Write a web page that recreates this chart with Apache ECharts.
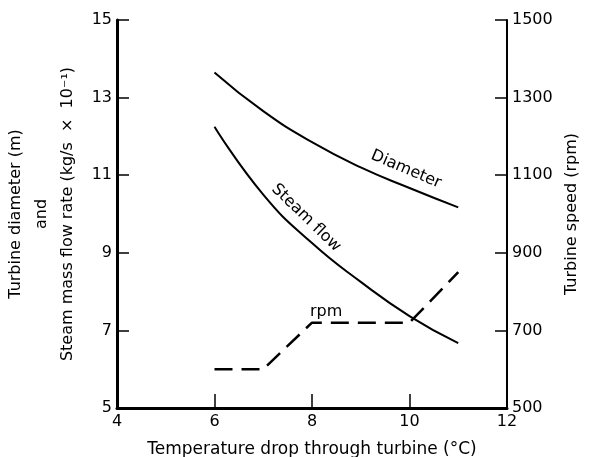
<!DOCTYPE html>
<html>
<head>
<meta charset="utf-8">
<script src="https://cdn.jsdelivr.net/npm/echarts@6/dist/echarts.min.js"></script>
<style>
  html, body { margin: 0; padding: 0; background: #fff; }
  #chart { width: 600px; height: 457px; }
</style>
</head>
<body>
<div id="chart"></div>
<script>
// temperature drop (°C)
var tempDrop = [6, 7, 8, 9, 10, 11]
// turbine diameter (m)
var diameter = [13.65, 12.65, 11.85, 11.2, 10.67, 10.17]
// steam mass flow rate (kg/s x 10^-1)
var steamFlow = [12.25, 10.5, 9.25, 8.25, 7.37, 6.67]
// turbine speed (rpm), step-like
var rpmX = [6, 7, 8, 10, 11]
var rpmY = [600, 600, 720, 720, 850]

var xTicks = [4, 6, 8, 10, 12]
var leftTicks = [5, 7, 9, 11, 13, 15]
var rightTicks = [500, 700, 900, 1100, 1300, 1500]

var font = 'DejaVu Sans'

function pairs(xs, ys) {
  return xs.map(function (x, i) { return [x, ys[i]] })
}

var chart = echarts.init(document.getElementById('chart'))

var labelStyle = {
  show: true,
  position: 'inside',
  color: '#000',
  fontFamily: font,
  fontSize: 16
}

var option = {
  backgroundColor: '#fff',
  animation: false,
  grid: {
    left: 117,
    right: 93,
    top: 20,
    bottom: 49,
    outerBoundsMode: 'none'
  },
  xAxis: {
    type: 'value',
    min: xTicks[0],
    max: xTicks[xTicks.length - 1],
    interval: 2,
    name: 'Temperature drop through turbine (°C)',
    nameLocation: 'middle',
    nameGap: 33,
    nameTextStyle: { color: '#000', fontFamily: font, fontSize: 17 },
    axisLine: { lineStyle: { color: '#000', width: 3 } },
    axisTick: { inside: true, length: 14, lineStyle: { color: '#000', width: 1.5 } },
    axisLabel: { color: '#000', fontFamily: font, fontSize: 16, margin: 6 },
    splitLine: { show: false }
  },
  yAxis: [
    {
      type: 'value',
      min: leftTicks[0],
      max: leftTicks[leftTicks.length - 1],
      interval: 2,
      name: 'Turbine diameter (m)\nand\nSteam mass flow rate (kg/s  ×  10⁻¹)',
      nameLocation: 'middle',
      nameGap: 36,
      nameTextStyle: { color: '#000', fontFamily: font, fontSize: 16, lineHeight: 26, align: 'center' },
      axisLine: { lineStyle: { color: '#000', width: 3 } },
      axisTick: { inside: true, length: 12, lineStyle: { color: '#000', width: 1.5 } },
      axisLabel: { color: '#000', fontFamily: font, fontSize: 16, margin: 5 },
      splitLine: { show: false }
    },
    {
      type: 'value',
      position: 'right',
      min: rightTicks[0],
      max: rightTicks[rightTicks.length - 1],
      interval: 200,
      name: 'Turbine speed (rpm)',
      nameLocation: 'middle',
      nameRotate: 90,
      nameGap: 55,
      nameTextStyle: { color: '#000', fontFamily: font, fontSize: 16 },
      axisLine: { show: true, lineStyle: { color: '#000', width: 2 } },
      axisTick: { inside: true, length: 12, lineStyle: { color: '#000', width: 1.5 } },
      axisLabel: {
        color: '#000', fontFamily: font, fontSize: 16, margin: 5,
        formatter: function (v) { return String(v) }
      },
      splitLine: { show: false }
    }
  ],
  series: [
    {
      name: 'Diameter',
      type: 'line',
      smooth: true,
      symbol: 'none',
      data: pairs(tempDrop, diameter),
      lineStyle: { color: '#000', width: 2 },
      markPoint: {
        symbolSize: 0,
        data: [{ coord: [9.93, 11.15], label: Object.assign({ formatter: 'Diameter', rotate: -23 }, labelStyle) }]
      }
    },
    {
      name: 'Steam flow',
      type: 'line',
      smooth: true,
      symbol: 'none',
      data: pairs(tempDrop, steamFlow),
      lineStyle: { color: '#000', width: 2 },
      markPoint: {
        symbolSize: 0,
        data: [{ coord: [7.88, 9.9], label: Object.assign({ formatter: 'Steam flow', rotate: -44 }, labelStyle) }]
      }
    },
    {
      name: 'rpm',
      type: 'line',
      yAxisIndex: 1,
      symbol: 'none',
      data: pairs(rpmX, rpmY),
      lineStyle: { color: '#000', width: 2.5, type: [18, 9] },
      markPoint: {
        symbolSize: 0,
        data: [{ coord: [8.29, 747], label: Object.assign({ formatter: 'rpm' }, labelStyle) }]
      }
    }
  ]
}

chart.setOption(option)
</script>
</body>
</html>
